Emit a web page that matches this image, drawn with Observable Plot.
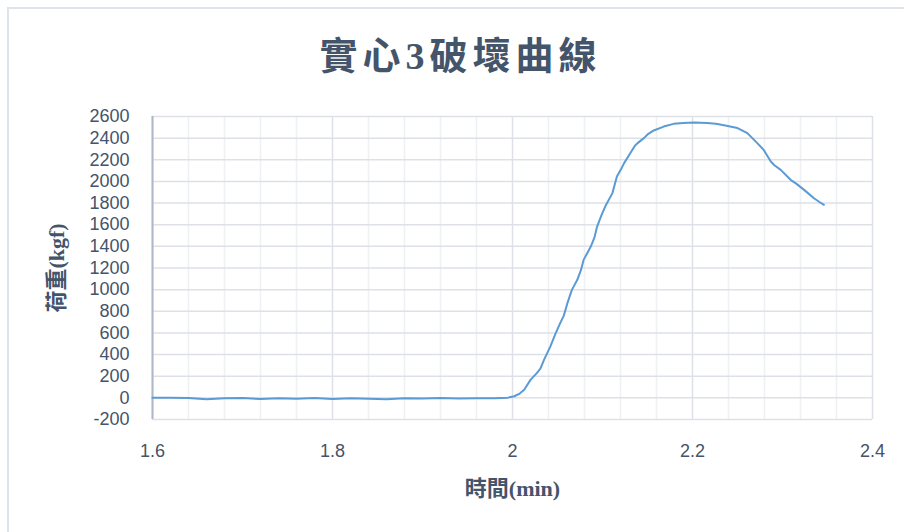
<!DOCTYPE html>
<html>
<head>
<meta charset="utf-8">
<script src="https://cdn.jsdelivr.net/npm/d3@7"></script>
<script src="https://cdn.jsdelivr.net/npm/@observablehq/plot@0.6"></script>
<style>
  html, body { margin: 0; padding: 0; background: #fff; width: 904px; height: 532px; overflow: hidden; }
  #wrap { position: absolute; left: 7px; top: 7px; width: 897px; height: 525px;
          border-left: 2px solid #dfe4ea; border-top: 2px solid #dfe4ea; }
  #title { height: 86px; box-sizing: border-box; padding-top: 26px; padding-left: 6px;
           text-align: center; font-family: "Liberation Serif", "Noto Sans CJK TC", serif;
           font-weight: 700; font-size: 38px; letter-spacing: 5px; color: #44546a; line-height: 42px; }
  #chart svg { display: block; }
</style>
</head>
<body>
<div id="wrap">
  <div id="title"></div>
  <div id="chart"></div>
</div>
<script>
const titleText = "實心3破壞曲線";
const xLabel = "時間(min)";
const yLabel = "荷重(kgf)";

const xTicks = [1.6, 1.8, 2, 2.2, 2.4];
const xMinorTicks = [1.64, 1.68, 1.72, 1.76, 1.84, 1.88, 1.92, 1.96, 2.04, 2.08, 2.12, 2.16, 2.24, 2.28, 2.32, 2.36];
const yTicks = [-200, 0, 200, 400, 600, 800, 1000, 1200, 1400, 1600, 1800, 2000, 2200, 2400, 2600];

const timeMin = [
  1.600, 1.620, 1.640, 1.660, 1.680, 1.700, 1.720, 1.740, 1.760, 1.780,
  1.800, 1.820, 1.840, 1.860, 1.880, 1.900, 1.920, 1.940, 1.960, 1.980,
  1.995, 2.002, 2.008, 2.013, 2.020, 2.027, 2.031, 2.035, 2.042, 2.048,
  2.053, 2.057, 2.061, 2.066, 2.072, 2.076, 2.079, 2.087, 2.091, 2.094,
  2.099, 2.103, 2.111, 2.116, 2.121, 2.124, 2.131, 2.136, 2.139, 2.146,
  2.151, 2.157, 2.168, 2.179, 2.190, 2.202, 2.216, 2.226, 2.235, 2.250,
  2.261, 2.272, 2.279, 2.287, 2.291, 2.298, 2.309, 2.316, 2.324, 2.335,
  2.341, 2.346
];
const loadKgf = [
  0, 0, -2, -12, -3, -2, -10, -4, -8, -2,
  -10, -3, -8, -12, -4, -6, -2, -5, -3, -4,
  2, 15, 40, 75, 166, 228, 270, 351, 474, 598,
  690, 760, 875, 998, 1091, 1180, 1275, 1398, 1480, 1583,
  1690, 1768, 1892, 2045, 2120, 2169, 2262, 2330, 2354, 2400,
  2440, 2471, 2507, 2532, 2541, 2545, 2539, 2532, 2520, 2493,
  2446, 2354, 2292, 2184, 2150, 2107, 2015, 1975, 1922, 1845,
  1810, 1784
];

document.getElementById("title").textContent = titleText;

const data = timeMin.map((t, i) => ({t, v: loadKgf[i]}));
const serif = "'Liberation Serif', 'Noto Sans CJK TC', serif";
const tickFont = "'Liberation Sans', 'Open Sans', sans-serif";

const chart = Plot.plot({
  width: 895,
  height: 437,
  marginLeft: 143,
  marginRight: 32,
  marginTop: 21,
  marginBottom: 113,
  style: { fontFamily: tickFont, fontSize: "18px", color: "#44546a", background: "#fff", overflow: "visible" },
  x: { domain: [1.6, 2.4], ticks: xTicks, tickFormat: d => String(d), tickSize: 0, tickPadding: 25, label: null },
  y: { domain: [-200, 2600], ticks: yTicks, tickFormat: d => String(d), tickSize: 0, tickPadding: 23, label: null },
  marks: [
    Plot.ruleX(xMinorTicks, { stroke: "#eef0f2", strokeWidth: 1.5 }),
    Plot.ruleY(yTicks, { stroke: "#dde1e7", strokeWidth: 1.5 }),
    Plot.ruleX(xTicks, { stroke: "#dde1e7", strokeWidth: 1.5 }),
    Plot.ruleX([1.6], { stroke: "#aeb7c7", strokeWidth: 2 }),
    Plot.axisX({ ticks: xTicks, tickFormat: d => String(d), tickSize: 0, tickPadding: 25, fill: "#44546a", label: null }),
    Plot.axisY({ ticks: yTicks, tickFormat: d => String(d), tickSize: 0, tickPadding: 23, fill: "#44546a", label: null }),
    Plot.line(data, { x: "t", y: "v", stroke: "#5b9bd5", strokeWidth: 2, curve: "linear" }),
    Plot.text([xLabel], { frameAnchor: "bottom", dy: 76, textAnchor: "middle", fontFamily: serif, fontWeight: "bold", fontSize: 22, fill: "#44546a" }),
    Plot.text([yLabel], { frameAnchor: "left", dx: -96, rotate: -90, textAnchor: "middle", fontFamily: serif, fontWeight: "bold", fontSize: 22, fill: "#44546a" })
  ]
});
document.getElementById("chart").appendChild(chart);
</script>
</body>
</html>
